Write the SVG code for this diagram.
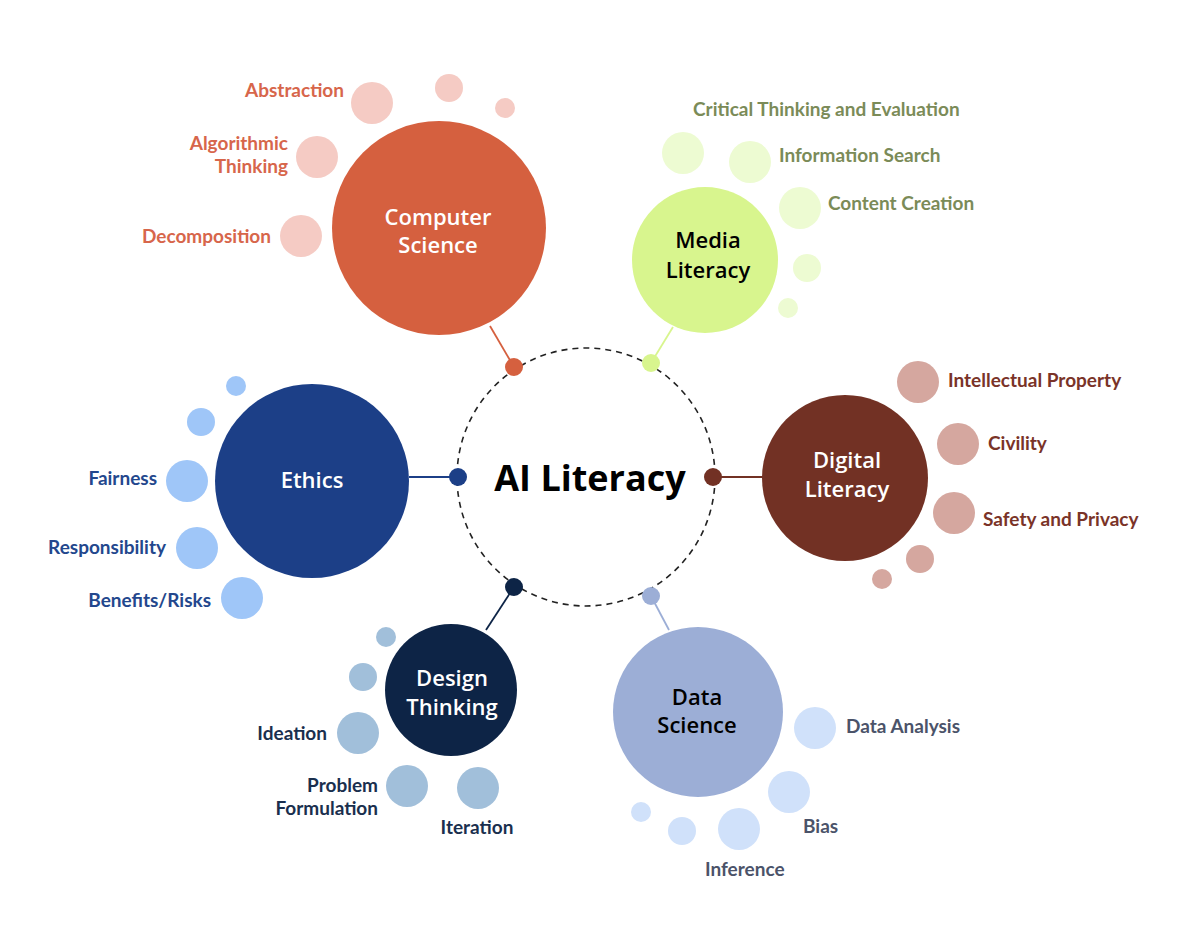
<svg xmlns="http://www.w3.org/2000/svg" width="1180" height="928" viewBox="0 0 1180 928">
<style>
.lbl{font-family:Lato,"Open Sans",sans-serif;font-weight:700;font-size:19px}
.node{font-family:"Open Sans","Noto Sans",sans-serif;font-weight:600;font-size:22px;text-anchor:middle}
.cs{fill:#D5603F}.csl{fill:#F5CBC4}.cst{fill:#D7664B}
.ml{fill:#D8F58E}.mll{fill:#EDFBD2}.mlt{fill:#7B8B58}
.dl{fill:#723124}.dll{fill:#D5A79F}.dlt{fill:#7A3328}
.et{fill:#1C3F87}.etl{fill:#9FC6F8}.ett{fill:#23478D}
.dt{fill:#0D2446}.dtl{fill:#A1BFDA}.dtt{fill:#1A2F4E}
.ds{fill:#9CAED6}.dsl{fill:#D0E1FA}.dst{fill:#4B5369}
</style>
<rect width="1180" height="928" fill="#fff"/>
<g id="connectors" stroke-width="1.8">
<line x1="514" y1="367" x2="490" y2="326" stroke="#D5603F"/>
<line x1="651" y1="363" x2="673" y2="327" stroke="#D8F58E"/>
<line x1="458" y1="477" x2="409" y2="477" stroke="#1C3F87"/>
<line x1="713" y1="477" x2="763" y2="477" stroke="#723124"/>
<line x1="514" y1="587" x2="486" y2="630" stroke="#0D2446"/>
<line x1="651" y1="596" x2="669" y2="630" stroke="#9CAED6"/>
</g>
<g id="ai-literacy">
<circle cx="586" cy="477" r="129" fill="none" stroke="#222" stroke-width="1.6" stroke-dasharray="6 5"/>
<text x="590" y="491" font-family="'Open Sans',sans-serif" font-weight="700" font-size="36" text-anchor="middle" fill="#000">AI Literacy</text>
<circle cx="514" cy="367" r="9" class="cs"/>
<circle cx="651" cy="363" r="9" class="ml"/>
<circle cx="458" cy="477" r="9" class="et"/>
<circle cx="713" cy="477" r="9" class="dl"/>
<circle cx="514" cy="587" r="9" class="dt"/>
<circle cx="651" cy="596" r="9" class="ds"/>
</g>
<g id="computer-science">
<circle cx="439" cy="228" r="107" class="cs"/>
<text class="node" x="438" y="225" fill="#fff">Computer</text>
<text class="node" x="438" y="253" fill="#fff">Science</text>
<circle cx="372" cy="103" r="21" class="csl"/>
<circle cx="449" cy="88" r="14" class="csl"/>
<circle cx="505" cy="108" r="10" class="csl"/>
<circle cx="317" cy="157" r="21" class="csl"/>
<circle cx="301" cy="236" r="21" class="csl"/>
<text class="lbl cst" x="344" y="97" text-anchor="end">Abstraction</text>
<text class="lbl cst" x="288" y="150" text-anchor="end">Algorithmic</text>
<text class="lbl cst" x="288" y="173" text-anchor="end">Thinking</text>
<text class="lbl cst" x="271" y="243" text-anchor="end">Decomposition</text>
</g>
<g id="media-literacy">
<circle cx="705" cy="260" r="73" class="ml"/>
<text class="node" x="708" y="248" fill="#000">Media</text>
<text class="node" x="708" y="278" fill="#000">Literacy</text>
<circle cx="683" cy="153" r="21" class="mll"/>
<circle cx="750" cy="162" r="21" class="mll"/>
<circle cx="800" cy="208" r="21" class="mll"/>
<circle cx="807" cy="268" r="14" class="mll"/>
<circle cx="788" cy="308" r="10" class="mll"/>
<text class="lbl mlt" x="693" y="116">Critical Thinking and Evaluation</text>
<text class="lbl mlt" x="779" y="162">Information Search</text>
<text class="lbl mlt" x="828" y="210">Content Creation</text>
</g>
<g id="digital-literacy">
<circle cx="845" cy="478" r="83" class="dl"/>
<text class="node" x="847" y="468" fill="#fff">Digital</text>
<text class="node" x="847" y="497" fill="#fff">Literacy</text>
<circle cx="918" cy="382" r="21" class="dll"/>
<circle cx="958" cy="444" r="21" class="dll"/>
<circle cx="954" cy="513" r="21" class="dll"/>
<circle cx="920" cy="559" r="14" class="dll"/>
<circle cx="882" cy="579" r="10" class="dll"/>
<text class="lbl dlt" x="948" y="387">Intellectual Property</text>
<text class="lbl dlt" x="988" y="450">Civility</text>
<text class="lbl dlt" x="983" y="526">Safety and Privacy</text>
</g>
<g id="ethics">
<circle cx="312" cy="481" r="97" class="et"/>
<text class="node" x="312" y="488" fill="#fff">Ethics</text>
<circle cx="236" cy="386" r="10" class="etl"/>
<circle cx="201" cy="422" r="14" class="etl"/>
<circle cx="187" cy="481" r="21" class="etl"/>
<circle cx="197" cy="548" r="21" class="etl"/>
<circle cx="242" cy="598" r="21" class="etl"/>
<text class="lbl ett" x="157" y="485" text-anchor="end">Fairness</text>
<text class="lbl ett" x="166" y="554" text-anchor="end">Responsibility</text>
<text class="lbl ett" x="211" y="607" text-anchor="end">Benefits/Risks</text>
</g>
<g id="design-thinking">
<circle cx="451" cy="690" r="66" class="dt"/>
<text class="node" x="452" y="686" fill="#fff">Design</text>
<text class="node" x="452" y="715" fill="#fff">Thinking</text>
<circle cx="386" cy="637" r="10" class="dtl"/>
<circle cx="363" cy="677" r="14" class="dtl"/>
<circle cx="358" cy="733" r="21" class="dtl"/>
<circle cx="407" cy="786" r="21" class="dtl"/>
<circle cx="478" cy="788" r="21" class="dtl"/>
<text class="lbl dtt" x="327" y="740" text-anchor="end">Ideation</text>
<text class="lbl dtt" x="378" y="792" text-anchor="end">Problem</text>
<text class="lbl dtt" x="378" y="815" text-anchor="end">Formulation</text>
<text class="lbl dtt" x="477" y="834" text-anchor="middle">Iteration</text>
</g>
<g id="data-science">
<circle cx="698" cy="712" r="85" class="ds"/>
<text class="node" x="697" y="705" fill="#000">Data</text>
<text class="node" x="697" y="733" fill="#000">Science</text>
<circle cx="815" cy="728" r="21" class="dsl"/>
<circle cx="789" cy="792" r="21" class="dsl"/>
<circle cx="739" cy="829" r="21" class="dsl"/>
<circle cx="682" cy="831" r="14" class="dsl"/>
<circle cx="641" cy="812" r="10" class="dsl"/>
<text class="lbl dst" x="846" y="733">Data Analysis</text>
<text class="lbl dst" x="803" y="833">Bias</text>
<text class="lbl dst" x="705" y="876">Inference</text>
</g>
</svg>
